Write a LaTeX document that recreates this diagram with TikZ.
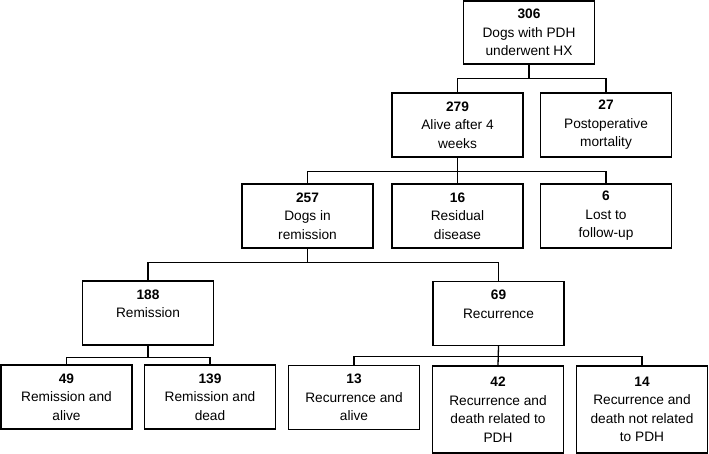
\documentclass[tikz,border=0pt]{standalone}
\usepackage{fontspec}
\setmainfont{Liberation Sans}
\begin{document}
\begin{tikzpicture}[x=1pt,y=-1pt,
  box/.style={draw=black,line width=1.3pt,inner sep=0pt,align=center,
    minimum width=131pt,minimum height=64pt,
    font=\fontsize{13.7}{18.5}\selectfont},
  tall/.style={box,minimum height=87pt},
  conn/.style={draw=black,line width=1.3pt}]
\useasboundingbox (0,0) rectangle (709,454);
% tier 0
\node[box,minimum height=63pt] (n306) at (529,32.5) {\textbf{306}\\Dogs with PDH\\underwent HX};
% tier 1
\node[box] (n279) at (457.5,125) {\textbf{279}\\Alive after 4\\weeks};
\node[box] (n27) at (606,125) {\textbf{27}\\Postoperative\\mortality};
% tier 2
\node[box] (n257) at (307.5,216) {\textbf{257}\\Dogs in\\remission};
\node[box] (n16) at (457.5,216) {\textbf{16}\\Residual\\disease};
\node[box] (n6) at (606,216) {\textbf{6}\\Lost to\\follow-up};
% tier 3
\node[box] (n188) at (148,313) {\textbf{188}\\Remission\\\mbox{}};
\node[box] (n69) at (498.5,313.5) {\textbf{69}\\Recurrence\\\mbox{}};
% tier 4
\node[box] (n49) at (66.5,397) {\textbf{49}\\Remission and\\alive};
\node[box] (n139) at (210,397) {\textbf{139}\\Remission and\\dead};
\node[box] (n13) at (354,397.5) {\textbf{13}\\Recurrence and\\alive};
\node[tall] (n42) at (498,409.5) {\textbf{42}\\Recurrence and\\death related to\\PDH};
\node[tall] (n14) at (642,409.5) {\textbf{14}\\Recurrence and\\death not related\\to PDH};
% connectors
\draw[conn] (n306.south) -- ++(0,14) -| (n279.north);
\draw[conn] (n306.south) ++(0,14) -| (n27.north);
\draw[conn] (n279.south) -- ++(0,14) -| (n257.north);
\draw[conn] (n279.south) -- (n16.north);
\draw[conn] (n279.south) ++(0,14) -| (n6.north);
\draw[conn] (n257.south) -- ++(0,14) -| (n188.north);
\draw[conn] (n257.south) ++(0,14) -| (n69.north);
\draw[conn] (n188.south) -- ++(0,12) -| (n49.north);
\draw[conn] (n188.south) ++(0,12) -| (n139.north);
\draw[conn] (n69.south) -- ++(0,10) -| (n13.north);
\draw[conn] (n69.south) -- (n42.north);
\draw[conn] (n69.south) ++(0,10) -| (n14.north);
\end{tikzpicture}
\end{document}
